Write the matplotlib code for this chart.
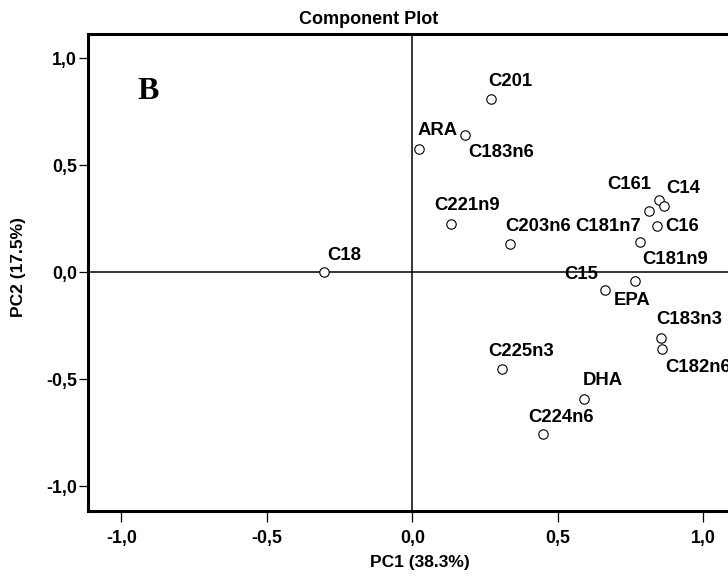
import numpy as np
import matplotlib
matplotlib.use("Agg")
import matplotlib.pyplot as plt
from matplotlib.ticker import FixedLocator, FuncFormatter

plt.rcParams["font.family"] = ["Liberation Sans", "DejaVu Sans"]
plt.rcParams["font.weight"] = "bold"

# component loadings
names = ["C18", "C201", "ARA", "C183n6", "C221n9", "C203n6", "C161", "C14",
         "C181n7", "C16", "C181n9", "C15", "EPA", "C183n3", "C182n6",
         "C225n3", "DHA", "C224n6"]
pc1 = [-0.302, 0.271, 0.023, 0.181, 0.132, 0.336, 0.812, 0.848,
       0.842, 0.863, 0.781, 0.661, 0.766, 0.855, 0.857,
       0.309, 0.589, 0.449]
pc2 = [0.000, 0.808, 0.578, 0.640, 0.226, 0.131, 0.284, 0.337,
       0.215, 0.311, 0.139, -0.083, -0.041, -0.306, -0.359,
       -0.452, -0.590, -0.756]

ticks = [-1.0, -0.5, 0.0, 0.5, 1.0]

# label offsets in pixels (left edge of text, vertical centre), as placed by SPSS
offsets = [(3, 17), (-3, 18), (-1, 18), (3, -17), (-16, 18), (-5, 18),
           (-41, 27), (7, 12), (-82, 0), (2, -21), (3, -17), (-40, 16),
           (-22, -19), (-5, 18), (3, -18), (-14, 18), (-1, 18), (-15, 17)]

fig = plt.figure(figsize=(7.28, 5.82), dpi=100)
ax = fig.add_axes([0.1209, 0.122, 0.8909, 0.8204])

ax.axhline(0, color="black", lw=1.1, zorder=1)
ax.axvline(0, color="black", lw=1.1, zorder=1)

ax.scatter(pc1, pc2, s=46, facecolors="white", edgecolors="black",
           linewidths=0.8, zorder=3)

for name, x, y, (dx, dy) in zip(names, pc1, pc2, offsets):
    ax.annotate(name, (x, y), xytext=(dx, dy), textcoords="offset pixels",
                ha="left", va="center", fontsize=13.3, fontweight="bold",
                annotation_clip=False)

ax.set_xlim(-1.114, 1.114)
ax.set_ylim(-1.115, 1.115)

fmt = FuncFormatter(lambda v, p: f"{v:.1f}".replace(".", ","))
ax.xaxis.set_major_locator(FixedLocator(ticks))
ax.yaxis.set_major_locator(FixedLocator(ticks))
ax.xaxis.set_major_formatter(fmt)
ax.yaxis.set_major_formatter(fmt)
ax.tick_params(axis="x", direction="out", length=8, width=0.9, pad=6,
               labelsize=12.8)
ax.tick_params(axis="y", direction="out", length=6.5, width=0.9, pad=1.5,
               labelsize=12.8)
for lab in ax.get_xticklabels() + ax.get_yticklabels():
    lab.set_fontweight("bold")

for side in ["left", "top", "bottom", "right"]:
    ax.spines[side].set_linewidth(2.2)

fig.text(148 / 728, 1 - 91.5 / 582, "B", family="Liberation Serif",
         fontsize=23, fontweight="bold", ha="center", va="center")

fig.text(369 / 728, 1 - 20 / 582, "Component Plot", fontsize=13,
         fontweight="bold", ha="center", va="center")
fig.text(420 / 728, 1 - 563 / 582, "PC1 (38.3%)", fontsize=12.5,
         fontweight="bold", ha="center", va="center")
fig.text(19 / 728, 1 - 267 / 582, "PC2 (17.5%)", fontsize=12.5,
         fontweight="bold", ha="center", va="center", rotation=90)

fig.savefig("out.png", dpi=100)
